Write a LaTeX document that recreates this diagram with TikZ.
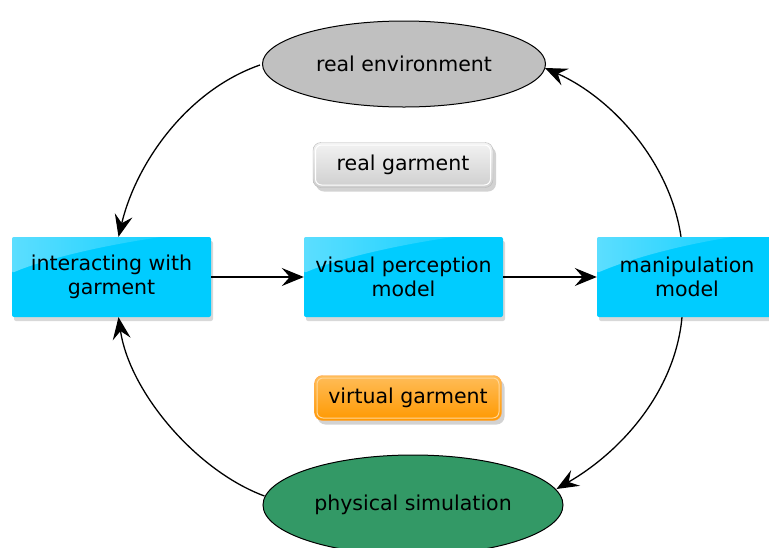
\documentclass[tikz,border=0pt]{standalone}
\usepackage{fontspec}
\setmainfont{DejaVu Sans}
\usetikzlibrary{shapes.geometric, arrows.meta, shadows, fadings, calc}

\definecolor{boxcyan}{HTML}{00CCFF}
\definecolor{envgray}{HTML}{C0C0C0}
\definecolor{simgreen}{HTML}{339966}
\definecolor{garmorange}{HTML}{FF9900}

\tikzfading[name=glossfade, left color=transparent!20, right color=transparent!100]

\tikzset{
  labelfont/.style={font=\fontsize{20.5}{24}\selectfont},
  stagebox/.style={rectangle, rounded corners=2pt, fill=boxcyan,
    minimum width=199pt, minimum height=80pt, align=center, labelfont,
    drop shadow={opacity=0.3, shadow xshift=2pt, shadow yshift=-4pt},
    path picture={
      \fill[white, fill opacity=0.45, path fading=glossfade]
        (path picture bounding box.north west)
        -- ($(path picture bounding box.north west)!0.75!(path picture bounding box.north east)$)
        .. controls ($(path picture bounding box.north west)!0.4!(path picture bounding box.north east)+(0,-10pt)$)
        and ($(path picture bounding box.north west)+(25pt,-25pt)$)
        .. ($(path picture bounding box.north west)!0.45!(path picture bounding box.south west)$)
        -- cycle;
    }},
  worldshape/.style={ellipse, draw=black, line width=1pt, inner sep=0pt, labelfont},
  garmbox/.style={rectangle, rounded corners=8pt, labelfont, inner sep=0pt,
    drop shadow={opacity=0.35, shadow xshift=3pt, shadow yshift=-4pt}},
  innerline/.style={path picture={
      \draw[#1, line width=1pt, rounded corners=6pt]
        ([shift={(2.5pt,-2.5pt)}]path picture bounding box.north west)
        rectangle ([shift={(-2.5pt,2.5pt)}]path picture bounding box.south east);}},
  flow/.style={draw=black, line width=1.3pt,
    -{Stealth[length=22pt, width=18pt, inset=8pt]}},
}

\begin{document}
\begin{tikzpicture}[x=1pt, y=-1pt]
  \clip (0,0) rectangle (769,547);
  \fill[white] (0,0) rectangle (769,547);

  % the two worlds
  \node[worldshape, fill=envgray, minimum width=283pt, minimum height=86pt]
    (env) at (404,64) {real environment};
  \node[worldshape, fill=simgreen, minimum width=300pt, minimum height=100pt]
    (sim) at (413,505) {physical simulation};

  % garment tags
  \node[garmbox, draw=gray!55, top color=gray!10, bottom color=gray!38,
        innerline=white, minimum width=180pt, minimum height=45pt]
    (realg) at (403,165) {real garment};
  \node[garmbox, draw=orange!70, top color=garmorange!65!white, bottom color=garmorange,
        innerline=garmorange!40!white, minimum width=187pt, minimum height=45pt]
    (virtg) at (408,398) {virtual garment};

  % pipeline stages
  \node[stagebox] (interact) at (111.5,277) {interacting with\\garment};
  \node[stagebox] (vis) at (403.5,277) {visual perception\\model};
  \node[stagebox, minimum width=180pt] (manip) at (687,277) {manipulation\\model};

  % straight flow
  \draw[flow] (interact.east) -- (vis.west);
  \draw[flow] (vis.east) -- (manip.west);

  % loop connectors
  \draw[flow] ($(env.west)+(-2,1)$) .. controls +(-72,25) and +(18,-75)
    .. ($(interact.north)+(7,0)$);
  \draw[flow] ($(sim.west)+(2,-9)$) .. controls +(-68,-25) and +(11,75)
    .. ($(interact.south)+(7,0)$);
  \draw[flow] ($(manip.north)+(-6,0)$) .. controls +(-11,-75) and +(67,30)
    .. ($(env.east)+(-1,4)$);
  \draw[flow] ($(manip.south)+(-5,0)$) .. controls +(-7,75) and +(64,-37)
    .. ($(sim.east)+(-7,-16)$);
\end{tikzpicture}
\end{document}
